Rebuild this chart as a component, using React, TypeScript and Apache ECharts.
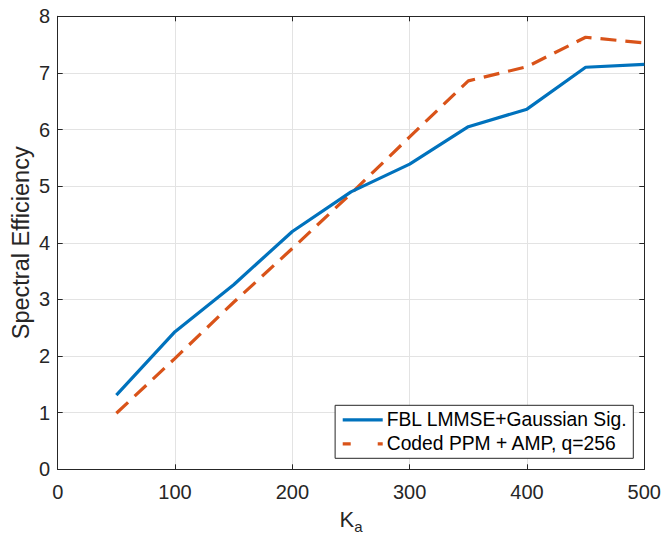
import React, { useEffect, useRef } from "react";
import * as echarts from "echarts";

const kaValues = [50, 100, 150, 200, 250, 300, 350, 400, 450, 500];
const fblValues = [1.31, 2.43, 3.26, 4.2, 4.9, 5.39, 6.05, 6.36, 7.1, 7.15];
const ppmValues = [0.99, 1.96, 2.95, 3.9, 4.87, 5.87, 6.86, 7.11, 7.63, 7.53];
const seriesNames = ["FBL LMMSE+Gaussian Sig.", "Coded PPM + AMP, q=256"];

const FONT = "'Liberation Sans', Arial, Helvetica, sans-serif";
const AXIS = "#262626";
const GRID = "#e3e3e3";

export default function App() {
  const ref = useRef<HTMLDivElement>(null);
  useEffect(() => {
    const chart = echarts.init(ref.current!, null, { renderer: "svg" });
    const pair = (ys: number[]) => kaValues.map((x, i) => [x, ys[i]]);
    chart.setOption({
      animation: false,
      backgroundColor: "#fff",
      textStyle: { fontFamily: FONT },
      grid: {
        left: 57.7,
        right: 16.7,
        top: 16.3,
        bottom: 67.7,
        containLabel: false,
        outerBoundsMode: "none",
      },
      legend: {
        orient: "vertical",
        right: 27.7,
        bottom: 78.7,
        backgroundColor: "#fff",
        borderColor: AXIS,
        borderWidth: 1,
        borderRadius: 0,
        padding: [5, 6, 5, 6],
        itemGap: 5,
        itemWidth: 40,
        itemHeight: 20,
        itemStyle: { opacity: 0 },
        textStyle: { fontSize: 19.3, color: "#000", fontFamily: FONT, padding: [0, 0, 0, -1] },
        data: [
          { name: seriesNames[0], lineStyle: { width: 3.2 } },
          { name: seriesNames[1], lineStyle: { width: 3.2, type: [8, 27] } },
        ],
      },
      xAxis: [
        {
          type: "value",
          min: 0,
          max: 500,
          interval: 100,
          position: "bottom",
          name: "{k|K}{a|a}",
          nameLocation: "middle",
          nameGap: 35,
          nameMoveOverlap: false,
          nameTextStyle: {
            rich: {
              k: { fontSize: 22, color: AXIS, fontFamily: FONT },
              a: { fontSize: 15, color: AXIS, fontFamily: FONT, padding: [15, 0, 0, 0] },
            },
          },
          axisLine: { show: true, lineStyle: { color: AXIS, width: 1 } },
          axisTick: { show: true, inside: true, length: 5, lineStyle: { color: AXIS } },
          axisLabel: { fontSize: 20, color: AXIS, margin: 12.4, fontFamily: FONT },
          splitLine: { show: true, lineStyle: { color: GRID, width: 1 } },
        },
        {
          type: "value",
          min: 0,
          max: 500,
          interval: 100,
          position: "top",
          axisLine: { show: true, onZero: false, lineStyle: { color: AXIS, width: 1 } },
          axisTick: { show: true, inside: true, length: 5, lineStyle: { color: AXIS } },
          axisLabel: { show: false },
          splitLine: { show: false },
        },
      ],
      yAxis: [
        {
          type: "value",
          min: 0,
          max: 8,
          interval: 1,
          position: "left",
          name: "Spectral Efficiency",
          nameLocation: "middle",
          nameGap: 25,
          nameMoveOverlap: false,
          nameTextStyle: { fontSize: 23.5, color: AXIS, fontFamily: FONT },
          axisLine: { show: true, lineStyle: { color: AXIS, width: 1 } },
          axisTick: { show: true, inside: true, length: 5, lineStyle: { color: AXIS } },
          axisLabel: { fontSize: 20, color: AXIS, margin: 7.7, fontFamily: FONT },
          splitLine: { show: true, lineStyle: { color: GRID, width: 1 } },
        },
        {
          type: "value",
          min: 0,
          max: 8,
          interval: 1,
          position: "right",
          axisLine: { show: true, onZero: false, lineStyle: { color: AXIS, width: 1 } },
          axisTick: { show: true, inside: true, length: 5, lineStyle: { color: AXIS } },
          axisLabel: { show: false },
          splitLine: { show: false },
        },
      ],
      series: [
        {
          name: seriesNames[0],
          type: "line",
          data: pair(fblValues),
          showSymbol: false,
          symbol: "none",
          color: "#0072BD",
          lineStyle: { color: "#0072BD", width: 3.2 },
          z: 3,
        },
        {
          name: seriesNames[1],
          type: "line",
          data: pair(ppmValues),
          showSymbol: false,
          symbol: "none",
          color: "#D95319",
          lineStyle: { color: "#D95319", width: 3.2, type: [16, 9] },
          z: 2,
        },
      ],
    });
    return () => chart.dispose();
  }, []);
  return <div ref={ref} style={{ width: 661, height: 537, position: "absolute", left: 0, top: 0 }} />;
}
